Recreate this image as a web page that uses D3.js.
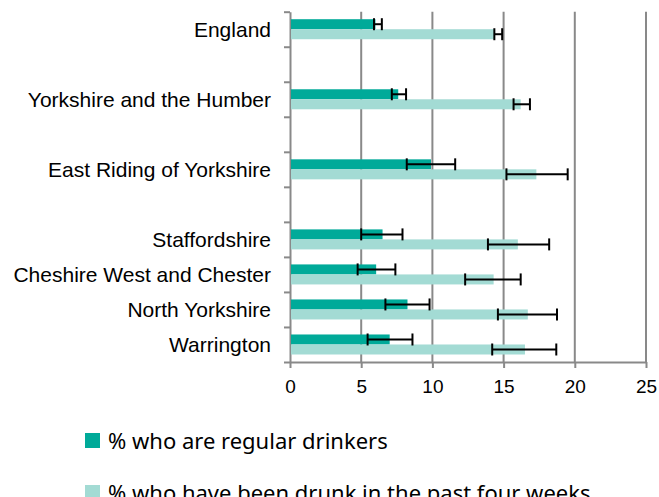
<!DOCTYPE html>
<html>
<head>
<meta charset="utf-8">
<script src="https://cdn.jsdelivr.net/npm/d3@7"></script>
<style>
  body { margin: 0; background: #fff; }
  .axis path, .axis line { stroke: #898989; stroke-width: 2; }
  .axis text { font-family: "Liberation Sans", Arial, sans-serif; font-size: 19px; fill: #000; }
</style>
</head>
<body>
<div id="chart"></div>
<script>
// data (blank strings are the empty spacer rows)
const categories = ["England", "", "Yorkshire and the Humber", "", "East Riding of Yorkshire", "",
  "Staffordshire", "Cheshire West and Chester", "North Yorkshire", "Warrington"];
const regular     = [6.0, null, 7.6, null, 9.9, null, 6.5, 6.05, 8.25, 7.0];
const regularLow  = [5.9, null, 7.15, null, 8.2, null, 5.0, 4.75, 6.7, 5.45];
const regularHigh = [6.45, null, 8.15, null, 11.6, null, 7.9, 7.4, 9.8, 8.6];
const drunk       = [14.4, null, 16.2, null, 17.3, null, 16.0, 14.3, 16.7, 16.5];
const drunkLow    = [14.35, null, 15.7, null, 15.2, null, 13.9, 12.3, 14.6, 14.2];
const drunkHigh   = [14.9, null, 16.85, null, 19.5, null, 18.2, 16.2, 18.75, 18.7];
const xTicks = [0, 5, 10, 15, 20, 25];
const seriesNames = ["% who are regular drinkers", "% who have been drunk in the past four weeks"];
const seriesKeys = ["regular", "drunk"];
const colors = { regular: "#00aa99", drunk: "#a3dbd4" };

const width = 659, height = 497;
const margins = { top: 11.7, left: 290, right: 13, bottom: 135 };

const rows = categories.map((c, i) => ({
  i, name: c,
  regular: regular[i], regularLow: regularLow[i], regularHigh: regularHigh[i],
  drunk: drunk[i], drunkLow: drunkLow[i], drunkHigh: drunkHigh[i]
}));

/** SCALES */
const x = d3.scaleLinear().domain([0, 25]).range([margins.left, width - margins.right]);
const y = d3.scaleBand().domain(d3.range(categories.length))
  .range([margins.top, height - margins.bottom]).padding(0);
const yEdge = d3.scaleLinear().domain([0, categories.length]).range(y.range());
const sub = d3.scaleBand().domain(seriesKeys).range([0, y.bandwidth()])
  .paddingInner(0).paddingOuter(0.75);

const svg = d3.select("#chart").append("svg")
  .attr("width", width).attr("height", height);

const plotBottom = y.range()[1];

// gridlines
svg.append("g").selectAll("line")
  .data(xTicks.filter(t => t > 0))
  .join("line")
  .attr("x1", d => x(d)).attr("x2", d => x(d))
  .attr("y1", margins.top).attr("y2", plotBottom)
  .attr("stroke", "#898989").attr("stroke-width", 2);

// x axis
svg.append("g").attr("class", "axis")
  .attr("transform", `translate(0,${plotBottom})`)
  .call(d3.axisBottom(x).tickValues(xTicks).tickSize(6).tickSizeOuter(0).tickPadding(12));

// y axis with ticks at band edges
svg.append("g").attr("class", "axis")
  .attr("transform", `translate(${margins.left},0)`)
  .call(d3.axisLeft(yEdge).tickValues(d3.range(categories.length + 1))
    .tickSize(6).tickSizeOuter(0).tickFormat(""));

// bars
const valid = rows.filter(d => d.regular != null);
seriesKeys.forEach(k => {
  svg.append("g").selectAll("rect")
    .data(valid)
    .join("rect")
    .attr("x", x(0) + 1)
    .attr("y", d => y(d.i) + sub(k))
    .attr("width", d => x(d[k]) - x(0) - 1)
    .attr("height", sub.bandwidth())
    .attr("fill", colors[k]);
});

// error bars
seriesKeys.forEach(k => {
  const g = svg.append("g").attr("stroke", "#000").attr("stroke-width", 2);
  const cy = d => y(d.i) + sub(k) + sub.bandwidth() / 2;
  g.selectAll("line.err")
    .data(valid).join("line").attr("class", "err")
    .attr("x1", d => x(d[k + "Low"])).attr("x2", d => x(d[k + "High"]))
    .attr("y1", cy).attr("y2", cy);
  ["Low", "High"].forEach(s => {
    g.selectAll("line.cap" + s)
      .data(valid).join("line").attr("class", "cap" + s)
      .attr("x1", d => x(d[k + s])).attr("x2", d => x(d[k + s]))
      .attr("y1", d => cy(d) - 6).attr("y2", d => cy(d) + 6);
  });
});

// category labels
svg.append("g").selectAll("text")
  .data(rows.filter(d => d.name))
  .join("text")
  .attr("x", margins.left - 19)
  .attr("y", d => y(d.i) + y.bandwidth() / 2)
  .attr("dy", "0.35em")
  .attr("text-anchor", "end")
  .style("font-family", '"Liberation Sans", Arial, sans-serif')
  .style("font-size", "21px")
  .text(d => d.name);

// legend
const legend = svg.append("g").selectAll("g")
  .data(seriesKeys)
  .join("g")
  .attr("transform", (d, i) => `translate(85,${433 + i * 52})`);
legend.append("rect").attr("width", 15).attr("height", 15).attr("fill", d => colors[d]);
legend.append("text")
  .attr("x", 23).attr("y", 16)
  .style("font-family", '"Noto Sans", "Open Sans", sans-serif')
  .style("font-size", "22px")
  .text((d, i) => seriesNames[i]);
</script>
</body>
</html>
